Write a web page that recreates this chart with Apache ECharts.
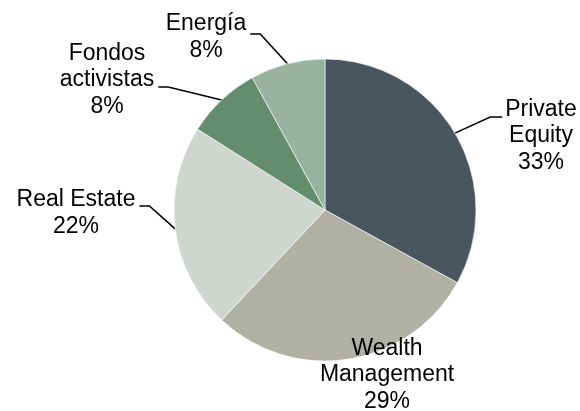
<!DOCTYPE html>
<html>
<head>
<meta charset="utf-8">
<script src="https://cdn.jsdelivr.net/npm/echarts@6/dist/echarts.min.js"></script>
<style>
  html, body { margin: 0; padding: 0; background: #fff; }
  #chart { width: 580px; height: 411px; }
</style>
</head>
<body>
<div id="chart"></div>
<script>
// datos
var categories = ['Private\nEquity', 'Wealth\nManagement', 'Real Estate', 'Fondos\nactivistas', 'Energía'];
var shares = [33, 29, 22, 8, 8];
var colors = ['#4A565E', '#B1B0A4', '#CFD5CF', '#648D6E', '#98B4A0'];

// donde van los textos (centro del bloque) y altura del gancho de la linea
var labelSpots = [
    { x: 541, y: 136, hookY: 117 },
    { x: 387, y: 375 },
    { x: 76, y: 213, hookY: 206 },
    { x: 107, y: 80, hookY: 87 },
    { x: 206, y: 37, hookY: 34 }
];

var chart = echarts.init(document.getElementById('chart'));

var pieData = categories.map(function (name, i) {
    return {
        name: name,
        value: shares[i],
        itemStyle: { color: colors[i] },
        labelLine: { show: i !== 1 }
    };
});

var option = {
    animation: false,
    series: [
        {
            type: 'pie',
            center: [325, 210],
            radius: 151,
            startAngle: 90,
            clockwise: true,
            avoidLabelOverlap: false,
            data: pieData,
            itemStyle: { borderColor: '#ffffff', borderWidth: 0.6 },
            label: {
                show: true,
                position: 'outside',
                formatter: function (p) { return p.name + '\n' + p.value + '%'; },
                fontFamily: 'Liberation Sans, Arial, sans-serif',
                fontSize: 23,
                lineHeight: 26.5,
                color: '#000'
            },
            labelLine: {
                show: true,
                smooth: false,
                lineStyle: { color: '#000', width: 1.6 }
            },
            labelLayout: function (params) {
                var spot = labelSpots[params.dataIndex];
                var out = { x: spot.x, y: spot.y, align: 'center', verticalAlign: 'middle' };
                if (spot.hookY != null && params.labelLinePoints) {
                    var w = params.labelRect.width;
                    var anchor = params.labelLinePoints[0];
                    var rightSide = anchor[0] > 325;
                    var endX = rightSide ? spot.x - w / 2 - 3 : spot.x + w / 2 + 4;
                    var bendX = rightSide ? endX - 12 : endX + 10;
                    out.labelLinePoints = [anchor, [bendX, spot.hookY], [endX, spot.hookY]];
                }
                return out;
            }
        }
    ]
};

chart.setOption(option);
</script>
</body>
</html>
